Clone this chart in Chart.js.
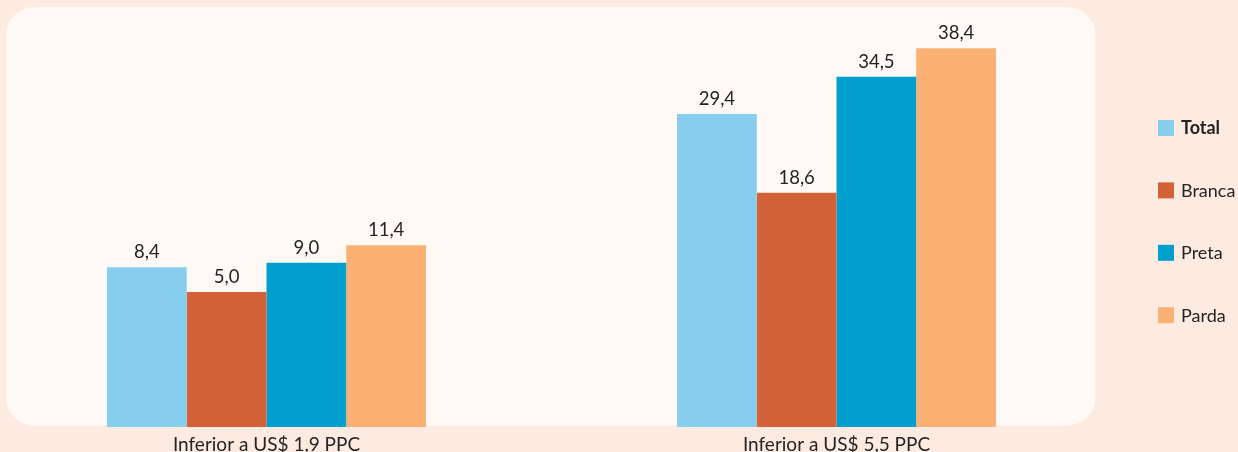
<!DOCTYPE html>
<html><head><meta charset="utf-8">
<script src="https://cdn.jsdelivr.net/npm/chart.js@4.4.0/dist/chart.umd.min.js"></script>
<style>html,body{margin:0;padding:0;background:#fdebe1;} canvas{display:block;}</style>
</head><body>
<canvas id="c" width="1238" height="452"></canvas>
<script>
const categories = ['Inferior a US$ 1,9 PPC', 'Inferior a US$ 5,5 PPC'];
const seriesNames = ['Total', 'Branca', 'Preta', 'Parda'];
const total = [8.4, 29.4];
const branca = [5.0, 18.6];
const preta = [9.0, 34.5];
const parda = [11.4, 38.4];
const seriesValues = [total, branca, preta, parda];
const colors = ['#87ceee', '#d36239', '#009fcd', '#fbb173'];
const yMin = -13.5, yMax = 40;
const FONT = 'Lato, "Noto Sans", sans-serif';
const TEXT = '#262324';

const bgPlugin = {
  id: 'bg',
  beforeDraw(chart) {
    const ctx = chart.ctx;
    ctx.save();
    ctx.fillStyle = '#fdebe1';
    ctx.fillRect(0, 0, chart.width, chart.height);
    ctx.fillStyle = '#fef9f4';
    ctx.beginPath();
    ctx.roundRect(6, 7, 1089.5, 418.5, 28);
    ctx.fill();
    ctx.restore();
  }
};

const labelPlugin = {
  id: 'vals',
  afterDatasetsDraw(chart) {
    const ctx = chart.ctx;
    ctx.save();
    ctx.font = '18.5px ' + FONT;
    ctx.fillStyle = TEXT;
    ctx.textAlign = 'center';
    ctx.textBaseline = 'middle';
    chart.data.datasets.forEach((ds, di) => {
      chart.getDatasetMeta(di).data.forEach((el, i) => {
        const v = seriesValues[di][i];
        ctx.fillText(v.toFixed(1).replace('.', ','), el.x, el.y - 15);
      });
    });
    ctx.restore();
  }
};

const legendPlugin = {
  id: 'customLegend',
  afterDraw(chart) {
    const ctx = chart.ctx;
    ctx.save();
    ctx.textAlign = 'left';
    ctx.textBaseline = 'middle';
    chart.data.datasets.forEach((ds, i) => {
      const cy = 128 + i * 62.4;
      ctx.fillStyle = ds.backgroundColor;
      ctx.fillRect(1158, cy - 8, 16, 16);
      ctx.fillStyle = TEXT;
      ctx.font = (i === 0 ? 'bold ' : '') + '18px ' + FONT;
      ctx.fillText(ds.label, 1181, cy + 0.5);
    });
    ctx.restore();
  }
};

new Chart(document.getElementById('c'), {
  type: 'bar',
  data: {
    labels: categories,
    datasets: seriesNames.map((name, i) => ({
      label: name,
      data: seriesValues[i],
      backgroundColor: colors[i],
      borderWidth: 0,
      base: yMin,
      clip: false,
      categoryPercentage: 0.5596,
      barPercentage: 1.0
    }))
  },
  options: {
    responsive: false,
    animation: false,
    layout: { padding: { left: 266.5, right: 401.5, top: 36.7, bottom: 0 } },
    plugins: { legend: { display: false }, tooltip: { enabled: false } },
    scales: {
      x: {
        offset: false,
        grid: { display: false, drawTicks: false },
        border: { display: false },
        ticks: { color: TEXT, font: { family: FONT, size: 19 }, padding: 6, maxRotation: 0, autoSkip: false },
        afterFit(scale) { scale.height = 25; }
      },
      y: {
        display: false,
        min: yMin,
        max: yMax
      }
    }
  },
  plugins: [bgPlugin, labelPlugin, legendPlugin]
});
</script>
</body></html>
